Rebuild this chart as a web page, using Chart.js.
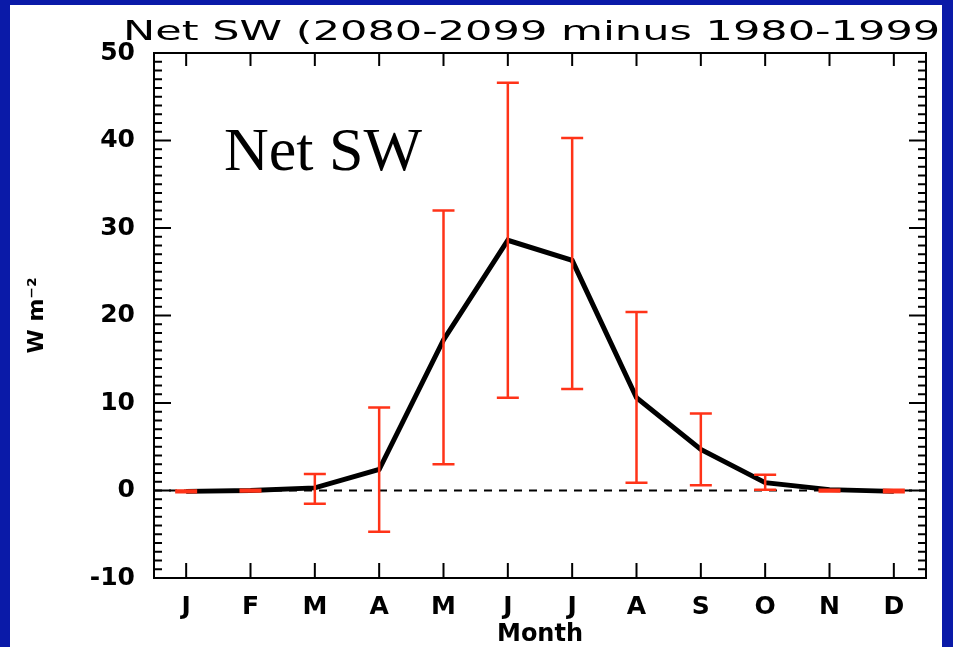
<!DOCTYPE html>
<html>
<head>
<meta charset="utf-8">
<script src="https://cdn.jsdelivr.net/npm/chart.js@4.4.1/dist/chart.umd.min.js"></script>
<style>
html, body { margin: 0; padding: 0; background: #0a1aa8; width: 953px; height: 647px; overflow: hidden; }
#panel { position: absolute; left: 10px; top: 5px; width: 932px; height: 642px; background: #fff; overflow: hidden; }
#wrap { position: absolute; left: -10px; top: -5px; width: 953px; height: 647px; }
</style>
</head>
<body>
<div id="panel"><div id="wrap"><canvas id="chart" width="953" height="647"></canvas></div></div>
<script>
// data
const months = ['J', 'F', 'M', 'A', 'M', 'J', 'J', 'A', 'S', 'O', 'N', 'D'];
const netSW = [-0.1, 0.0, 0.3, 2.4, 17.2, 28.6, 26.3, 10.6, 4.7, 0.9, 0.1, -0.1];
const errLow = [-0.2, -0.1, -1.5, -4.7, 3.0, 10.6, 11.6, 0.9, 0.6, 0.1, -0.1, -0.2];
const errHigh = [0.0, 0.1, 1.9, 9.5, 32.0, 46.6, 40.3, 20.4, 8.8, 1.8, 0.1, 0.1];
const yTicks = [-10, 0, 10, 20, 30, 40, 50];

const titleText = 'Net SW (2080-2099 minus 1980-1999)';
const panelLabel = 'Net SW';

// frame, ticks, zero line, error bars and texts
const framePlugin = {
    id: 'frame',
    beforeDatasetsDraw(chart) {
        const { ctx, chartArea: a, scales: { y } } = chart;
        const y0 = y.getPixelForValue(0);
        ctx.save();
        ctx.strokeStyle = '#000';
        ctx.lineWidth = 2;
        ctx.setLineDash([8, 7]);
        ctx.beginPath();
        ctx.moveTo(a.left, y0);
        ctx.lineTo(a.right, y0);
        ctx.stroke();
        ctx.restore();
    },
    afterDatasetsDraw(chart) {
        const { ctx, chartArea: a, scales: { x, y } } = chart;
        ctx.save();

        // error bars
        ctx.strokeStyle = '#ff3318';
        ctx.lineWidth = 2.5;
        const cap = 11;
        months.forEach((m, i) => {
            const px = x.getPixelForValue(i + 1);
            const lo = y.getPixelForValue(errLow[i]);
            const hi = y.getPixelForValue(errHigh[i]);
            ctx.beginPath();
            ctx.moveTo(px, lo); ctx.lineTo(px, hi);
            ctx.moveTo(px - cap, lo); ctx.lineTo(px + cap, lo);
            ctx.moveTo(px - cap, hi); ctx.lineTo(px + cap, hi);
            ctx.stroke();
        });

        // box
        ctx.strokeStyle = '#000';
        ctx.lineWidth = 2;
        ctx.strokeRect(a.left, a.top, a.right - a.left, a.bottom - a.top);

        // x ticks, inward on top and bottom
        ctx.beginPath();
        months.forEach((m, i) => {
            const px = x.getPixelForValue(i + 1);
            ctx.moveTo(px, a.bottom); ctx.lineTo(px, a.bottom - 15);
            ctx.moveTo(px, a.top); ctx.lineTo(px, a.top + 13);
        });
        // y ticks, major every 10 and minor every 1, on both sides
        for (let v = y.min; v <= y.max; v++) {
            const py = y.getPixelForValue(v);
            const len = (v % 10 === 0) ? 17 : 8;
            ctx.moveTo(a.left, py); ctx.lineTo(a.left + len, py);
            ctx.moveTo(a.right, py); ctx.lineTo(a.right - len, py);
        }
        ctx.stroke();
        ctx.restore();
    },
    afterDraw(chart) {
        const { ctx, chartArea: a } = chart;
        ctx.save();
        ctx.fillStyle = '#000';

        // title, wide like the original plotting font
        ctx.font = '27px "DejaVu Sans"';
        const w = ctx.measureText(titleText).width;
        ctx.translate((a.left + a.right) / 2, 40);
        ctx.scale(834 / w, 1);
        ctx.textAlign = 'center';
        ctx.textBaseline = 'alphabetic';
        ctx.fillText(titleText, 0, 0);
        ctx.restore();

        ctx.save();
        ctx.fillStyle = '#000';
        ctx.font = '62px "Liberation Serif"';
        ctx.textAlign = 'left';
        ctx.textBaseline = 'alphabetic';
        ctx.fillText(panelLabel, 224, 170);
        ctx.restore();
    }
};

const tickFont = { family: 'DejaVu Sans', size: 25, weight: 'bold' };

new Chart(document.getElementById('chart'), {
    type: 'scatter',
    data: {
        datasets: [{
            data: months.map((m, i) => ({ x: i + 1, y: netSW[i] })),
            showLine: true,
            borderColor: '#000',
            borderWidth: 5,
            pointRadius: 0,
            fill: false,
            tension: 0
        }]
    },
    options: {
        responsive: false,
        animation: false,
        layout: { padding: { left: 0, right: 27, top: 53, bottom: 0 } },
        plugins: {
            legend: { display: false },
            tooltip: { enabled: false },
            title: { display: false }
        },
        scales: {
            x: {
                type: 'linear',
                min: 0.5,
                max: 12.5,
                grid: { display: false },
                border: { display: false },
                afterBuildTicks: (s) => { s.ticks = months.map((m, i) => ({ value: i + 1 })); },
                afterFit: (s) => { s.height = 69; },
                ticks: {
                    autoSkip: false,
                    maxRotation: 0,
                    padding: 6,
                    color: '#000',
                    font: tickFont,
                    callback: (v) => months[v - 1]
                },
                title: {
                    display: true,
                    text: 'Month',
                    color: '#000',
                    font: { family: 'DejaVu Sans', size: 24, weight: 'bold', lineHeight: 1 },
                    padding: 0
                }
            },
            y: {
                min: -10,
                max: 50,
                grid: { display: false },
                border: { display: false },
                afterBuildTicks: (s) => { s.ticks = yTicks.map(v => ({ value: v })); },
                afterFit: (s) => { s.width = 154; },
                ticks: {
                    padding: 11,
                    color: '#000',
                    font: tickFont
                },
                title: {
                    display: true,
                    text: 'W m\u207B\u00B2',
                    color: '#000',
                    font: { family: 'DejaVu Sans', size: 22, weight: 'bold' },
                    padding: { top: 24, bottom: 0 }
                }
            }
        }
    },
    plugins: [framePlugin]
});
</script>
</body>
</html>
